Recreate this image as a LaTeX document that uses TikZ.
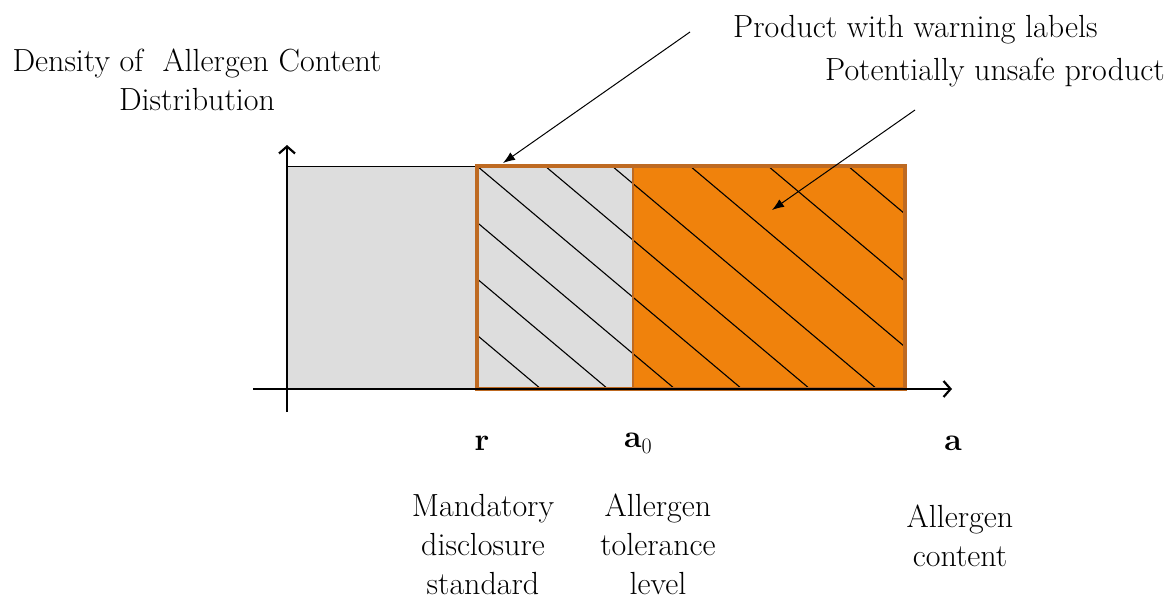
\documentclass[tikz,border=0pt]{standalone}
\usepackage{fontspec}
\usetikzlibrary{arrows.meta}
\definecolor{mikan}{HTML}{F0820C}
\definecolor{kogecha}{HTML}{BE6A22}
\definecolor{hai}{HTML}{DDDDDD}

\begin{document}
\begin{tikzpicture}[x=1pt, y=-1pt,
    txt/.style={align=center, font=\fontsize{32}{39}\selectfont, inner sep=0pt},
    pointer/.style={draw=black, line width=1pt, -{Latex[length=12pt,width=9pt]}},
    axis/.style={line width=2.2pt, -{Straight Barb[length=7pt,width=16pt]}}]
    \useasboundingbox (0,0) rectangle (1170,600);

    \fill[hai] (287,166) rectangle (633,389);
    \fill[mikan] (633,166) rectangle (905,389);
    \draw[line width=1pt] (287,166) -- (477,166);
    \begin{scope}
        \clip (477,166) rectangle (905,389);
        \foreach \x in {276, 343, 410, 477, 545, 612, 690, 768, 848}
            \draw[line width=1.1pt] (\x,166) -- ++(265,223);
    \end{scope}
    \draw[kogecha, line width=1.6pt] (633,166) -- (633,389);
    \draw[kogecha, line width=3.5pt] (477,166) rectangle (905,389);

    \draw[axis] (253,389) -- (952,389);
    \draw[axis] (287,412) -- (287,145);

    \node[txt] (dens) at (197,80) {Density of~~Allergen Content\\Distribution};
    \node[txt, anchor=west] (warn) at (733,30) {Product with warning labels};
    \node[txt, anchor=west] (unsafe) at (825,73) {Potentially unsafe product};

    \node[txt] (lblr) at (482,443) {\textbf{r}};
    \node[txt] (lbla0) at (638,443) {\textbf{a}\raisebox{-6pt}{\fontsize{22}{22}\selectfont 0}};
    \node[txt] (lbla) at (953,443) {\textbf{a}};

    \node[txt] (mds) at (483,545) {Mandatory\\disclosure\\standard};
    \node[txt] (atl) at (658,544) {Allergen\\tolerance\\level};
    \node[txt] (ac) at (960,536) {Allergen\\content};

    \coordinate (warnfoot) at (690,32);
    \coordinate (warntip) at (503,163);
    \coordinate (unsafefoot) at (915,110);
    \coordinate (unsafetip) at (772,210);
    \draw[pointer] (warnfoot) -- (warntip);
    \draw[pointer] (unsafefoot) -- (unsafetip);
\end{tikzpicture}
\end{document}
